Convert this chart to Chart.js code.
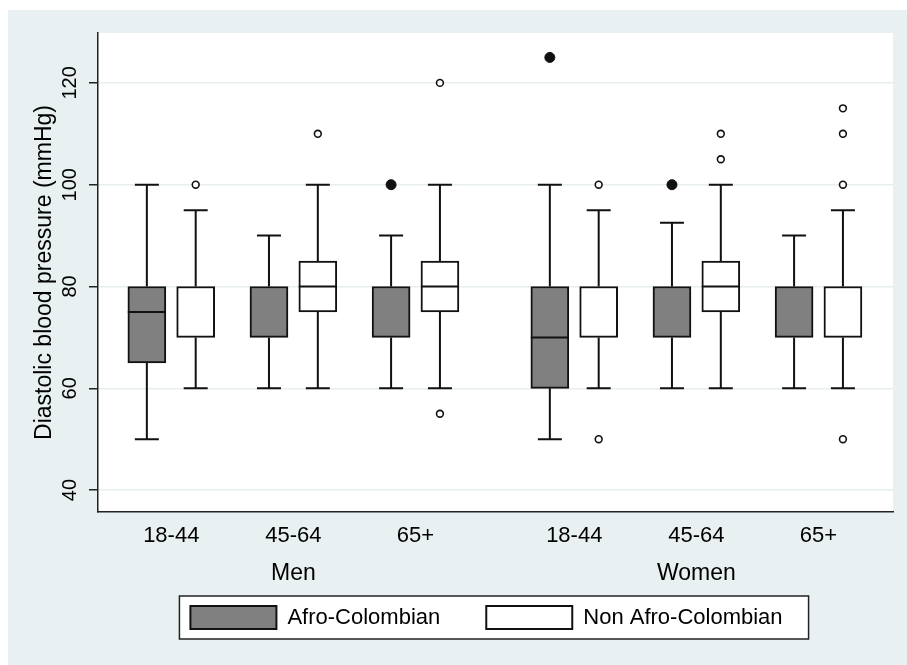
<!DOCTYPE html>
<html>
<head>
<meta charset="utf-8">
<script src="https://cdn.jsdelivr.net/npm/chart.js@4.4.1/dist/chart.umd.min.js"></script>
<style>
  html, body { margin: 0; padding: 0; background: #ffffff; }
  #wrap { width: 907px; height: 665px; position: relative; }
</style>
</head>
<body>
<div id="wrap"><canvas id="c" width="907" height="665"></canvas></div>
<script>
// ---- data ----
const sexes = ['Men', 'Women'];
const ageGroups = ['18-44', '45-64', '65+'];
const seriesNames = ['Afro-Colombian', 'Non Afro-Colombian'];
const yTickValues = [40, 60, 80, 100, 120];
// order of boxes: Men 18-44, Men 45-64, Men 65+, Women 18-44, Women 45-64, Women 65+
const afroLow      = [50, 60, 60, 50, 60, 60];
const afroQ1       = [65, 70, 70, 60, 70, 70];
const afroMedian   = [75, 70, 70, 70, 70, 70];
const afroQ3       = [80, 80, 80, 80, 80, 80];
const afroHigh     = [100, 90, 90, 100, 92.5, 90];
const afroOutliers = [[], [], [100], [125], [100], []];
const nonLow       = [60, 60, 60, 60, 60, 60];
const nonQ1        = [70, 75, 75, 70, 75, 70];
const nonMedian    = [80, 80, 80, 80, 80, 80];
const nonQ3        = [80, 85, 85, 80, 85, 80];
const nonHigh      = [95, 100, 100, 95, 100, 95];
const nonOutliers  = [[100], [110], [120, 55], [100, 50], [105, 110], [100, 110, 115, 50]];

// ---- layout helpers (positions on the linear x scale) ----
const GROUP_STEP = 3.3;   // distance between the first age group of Men and of Women
const SERIES_OFFSET = 0.2;
const catPos = [];
sexes.forEach((s, si) => ageGroups.forEach((a, ai) => catPos.push(si * GROUP_STEP + ai + 1)));
const catLabels = [];
sexes.forEach(() => ageGroups.forEach(a => catLabels.push(a)));
const sexPos = sexes.map((s, si) => si * GROUP_STEP + (ageGroups.length + 1) / 2);

const series = [
  {name: seriesNames[0], low: afroLow, q1: afroQ1, med: afroMedian, q3: afroQ3, high: afroHigh, out: afroOutliers, off: -SERIES_OFFSET, fill: '#808080'},
  {name: seriesNames[1], low: nonLow, q1: nonQ1, med: nonMedian, q3: nonQ3, high: nonHigh, out: nonOutliers, off: SERIES_OFFSET, fill: '#ffffff'}
];

const FONT = "'Liberation Sans', Arial, Helvetica, sans-serif";
const INK = '#111111';
const LEGEND_PAD = 46;
const LEGEND_SHIFT = -9;

const barDatasets = series.map(s => ({
  type: 'bar',
  label: s.name,
  data: catPos.map((p, i) => ({x: p + s.off, y: [s.q1[i], s.q3[i]]})),
  backgroundColor: s.fill,
  borderColor: INK,
  borderWidth: 2,
  borderSkipped: false,
  barThickness: 38,
  grouped: false,
  xAxisID: 'x',
  yAxisID: 'y'
}));

const outlierDatasets = series.map((s, si) => {
  const pts = [];
  catPos.forEach((p, i) => s.out[i].forEach(v => pts.push({x: p + s.off, y: v})));
  return {
    type: 'scatter',
    label: s.name + ' outliers',
    data: pts,
    pointRadius: si === 0 ? 5 : 3.4,
    pointBorderWidth: si === 0 ? 1 : 1.6,
    pointBackgroundColor: si === 0 ? INK : '#ffffff',
    pointBorderColor: INK,
    showLine: false,
    xAxisID: 'x',
    yAxisID: 'y'
  };
});

const bgPlugin = {
  id: 'bg',
  afterUpdate(chart) {
    const lg = chart.legend;
    if (lg) {
      lg.left += LEGEND_SHIFT;
      lg.right += LEGEND_SHIFT;
      (lg.legendHitBoxes || []).forEach(h => { h.left += LEGEND_SHIFT; });
    }
  },
  beforeDraw(chart) {
    const ctx = chart.ctx, a = chart.chartArea;
    ctx.save();
    ctx.fillStyle = '#ffffff';
    ctx.fillRect(0, 0, chart.width, chart.height);
    ctx.fillStyle = '#e9f0f2';
    ctx.fillRect(8, 10, chart.width - 8, chart.height - 10);
    ctx.fillStyle = '#ffffff';
    ctx.fillRect(a.left, a.top, a.right - a.left, a.bottom - a.top);
    // legend frame
    const lg = chart.legend;
    if (lg && lg.legendHitBoxes && lg.legendHitBoxes.length) {
      const hb = lg.legendHitBoxes;
      const first = hb[0], last = hb[hb.length - 1];
      const x0 = first.left - 11, x1 = last.left + last.width + 26;
      const y0 = first.top - 10, y1 = first.top + first.height + 10;
      ctx.fillStyle = '#ffffff';
      ctx.fillRect(x0, y0, x1 - x0, y1 - y0);
      ctx.strokeStyle = '#222222';
      ctx.lineWidth = 1.5;
      ctx.strokeRect(x0, y0, x1 - x0, y1 - y0);
    }
    ctx.restore();
  }
};

const boxPlugin = {
  id: 'boxParts',
  afterDatasetsDraw(chart) {
    const ctx = chart.ctx, xs = chart.scales.x, ys = chart.scales.y;
    ctx.save();
    ctx.strokeStyle = INK;
    ctx.lineWidth = 2;
    ctx.lineCap = 'butt';
    series.forEach((s, si) => {
      const meta = chart.getDatasetMeta(si);
      catPos.forEach((p, i) => {
        const cx = xs.getPixelForValue(p + s.off);
        const bar = meta.data[i];
        const half = bar.width / 2;
        const capHalf = 12;
        const yLow = ys.getPixelForValue(s.low[i]);
        const yQ1 = ys.getPixelForValue(s.q1[i]);
        const yMed = ys.getPixelForValue(s.med[i]);
        const yQ3 = ys.getPixelForValue(s.q3[i]);
        const yHigh = ys.getPixelForValue(s.high[i]);
        ctx.beginPath();
        // whiskers
        ctx.moveTo(cx, yQ3); ctx.lineTo(cx, yHigh);
        ctx.moveTo(cx, yQ1); ctx.lineTo(cx, yLow);
        // caps
        ctx.moveTo(cx - capHalf, yHigh); ctx.lineTo(cx + capHalf, yHigh);
        ctx.moveTo(cx - capHalf, yLow); ctx.lineTo(cx + capHalf, yLow);
        // median (only visible when it lies inside the box)
        if (s.med[i] > s.q1[i] && s.med[i] < s.q3[i]) {
          ctx.moveTo(bar.x - half, yMed); ctx.lineTo(bar.x + half, yMed);
        }
        ctx.stroke();
      });
    });
    ctx.restore();
  }
};

new Chart(document.getElementById('c'), {
  type: 'bar',
  data: { datasets: [...barDatasets, ...outlierDatasets] },
  plugins: [bgPlugin, boxPlugin],
  options: {
    responsive: false,
    animation: false,
    events: [],
    layout: { padding: { left: 8, top: 33, right: 14, bottom: 26 } },
    plugins: {
      tooltip: { enabled: false },
      legend: {
        position: 'bottom',
        fullSize: false,
        labels: {
          font: { family: FONT, size: 22 },
          color: '#000000',
          boxWidth: 86,
          boxHeight: 23,
          padding: LEGEND_PAD,
          filter: item => item.datasetIndex < series.length
        }
      }
    },
    scales: {
      x: {
        type: 'linear',
        position: 'bottom',
        min: 0.4,
        max: 6.91,
        offset: false,
        afterBuildTicks: s => { s.ticks = catPos.map(v => ({value: v})); },
        afterFit: s => { s.height = 48; },
        ticks: {
          autoSkip: false,
          maxRotation: 0,
          padding: 11,
          color: '#000000',
          font: { family: FONT, size: 22 },
          callback: (v, i) => catLabels[i]
        },
        grid: { display: false, drawTicks: false },
        border: { display: true, color: '#222222', width: 1.5 }
      },
      x2: {
        type: 'linear',
        position: 'bottom',
        min: 0.4,
        max: 6.91,
        offset: false,
        afterBuildTicks: s => { s.ticks = sexPos.map(v => ({value: v})); },
        afterFit: s => { s.height = 0; },
        ticks: {
          autoSkip: false,
          maxRotation: 0,
          mirror: true,
          padding: -27.4,
          color: '#000000',
          font: { family: FONT, size: 23 },
          callback: (v, i) => sexes[i]
        },
        grid: { display: false, drawTicks: false },
        border: { display: false }
      },
      y: {
        type: 'linear',
        position: 'left',
        min: 35.7,
        max: 129.8,
        afterBuildTicks: s => { s.ticks = yTickValues.map(v => ({value: v})); },
        afterFit: s => { s.width = 90; },
        ticks: {
          minRotation: 90,
          maxRotation: 90,
          crossAlign: 'center',
          padding: 2,
          color: '#000000',
          font: { family: FONT, size: 20 }
        },
        grid: {
          color: '#e6eef0',
          lineWidth: 1.5,
          drawTicks: true,
          tickLength: 9,
          tickColor: '#222222',
          tickWidth: 1.5
        },
        border: { display: true, color: '#222222', width: 1.5 },
        title: {
          display: true,
          text: 'Diastolic blood pressure (mmHg)',
          color: '#000000',
          font: { family: FONT, size: 23 },
          padding: { top: 23, bottom: 0 }
        }
      }
    }
  }
});
</script>
</body>
</html>
